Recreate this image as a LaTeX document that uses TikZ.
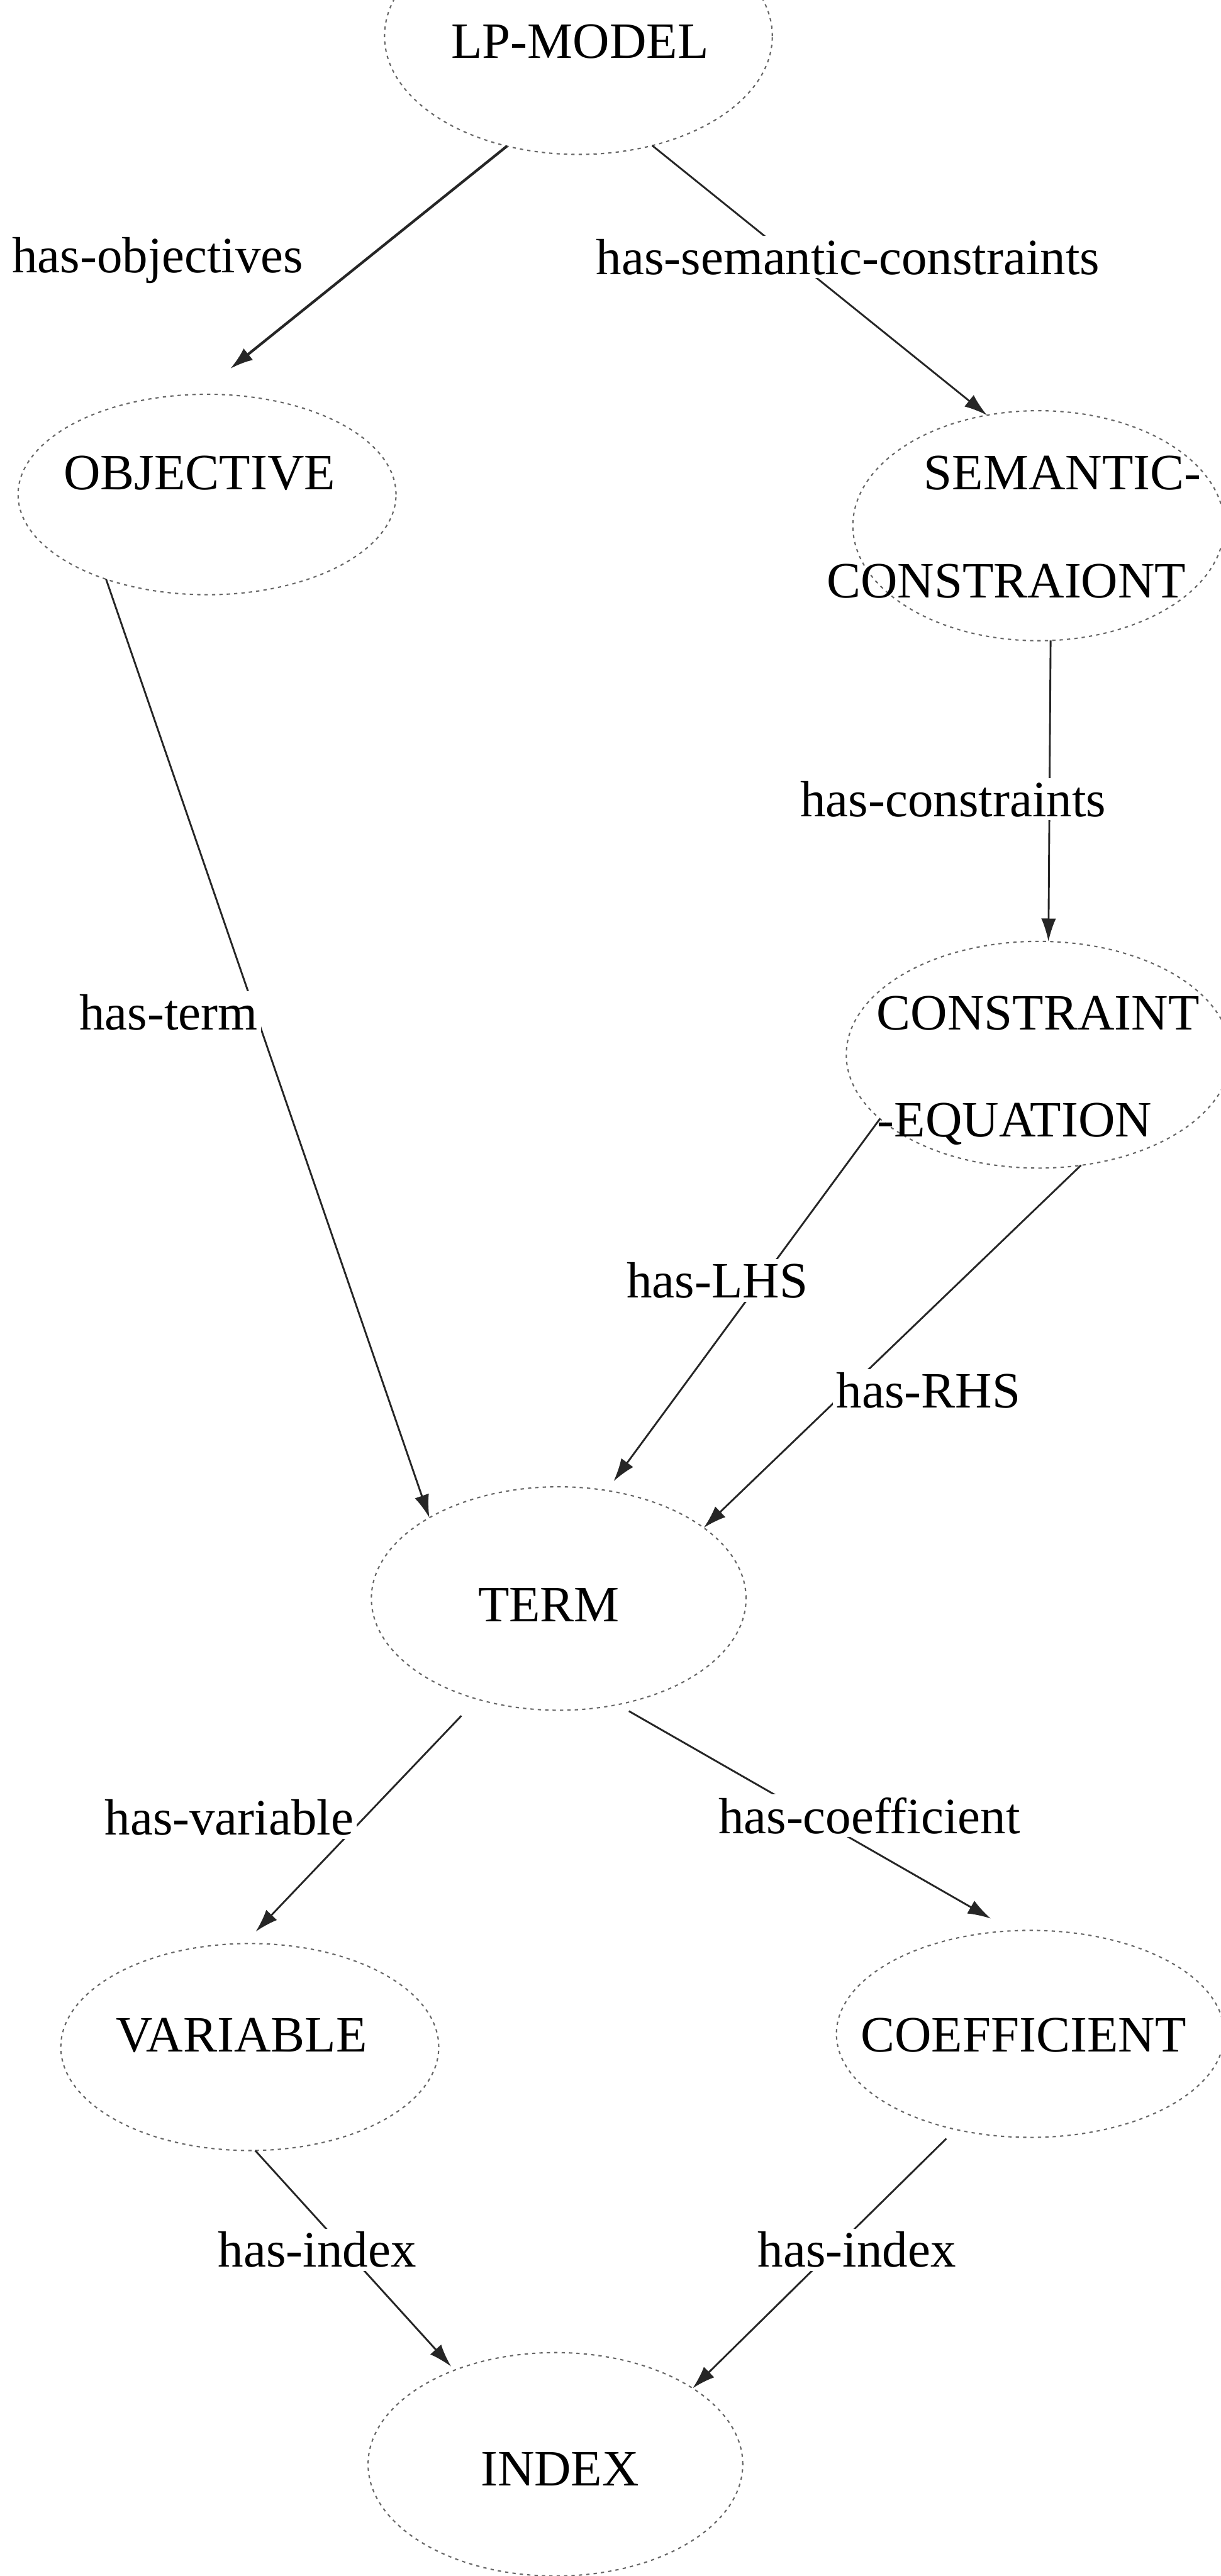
\documentclass[tikz,border=0pt]{standalone}
\usepackage{fontspec}
\setmainfont{Liberation Serif}
\usetikzlibrary{shapes.geometric,arrows.meta}
\begin{document}
\begin{tikzpicture}[x=1pt,y=-1pt,
  txt/.style={anchor=base,inner sep=0pt,font=\fontsize{31}{36}\selectfont},
  lab/.style={anchor=base,inner sep=2pt,fill=white,font=\fontsize{31}{36}\selectfont},
  ell/.style={ellipse,draw=black!60,line width=0.8pt,dash pattern=on 2pt off 2.5pt,inner sep=0pt,outer sep=0pt},
  conn/.style={draw=black!85,line width=1.1pt,-{Latex[length=14pt,width=9pt]}},
]
\useasboundingbox (0,0) rectangle (743,1568);
\clip (0,0) rectangle (743,1568);
\fill[white] (0,0) rectangle (743,1568);

% ellipses
\node[ell,minimum width=236pt,minimum height=144pt] (lpE)   at (352,22)   {};
\node[ell,minimum width=230pt,minimum height=122pt] (objE)  at (126,301)  {};
\node[ell,minimum width=226pt,minimum height=140pt] (semE)  at (632,320)  {};
\node[ell,minimum width=234pt,minimum height=138pt] (conE)  at (632,642)  {};
\node[ell,minimum width=228pt,minimum height=136pt] (termE) at (340,973)  {};
\node[ell,minimum width=230pt,minimum height=126pt] (varE)  at (152,1246) {};
\node[ell,minimum width=236pt,minimum height=126pt] (coefE) at (627,1238) {};
\node[ell,minimum width=228pt,minimum height=136pt] (idxE)  at (338,1500) {};

% node texts
\node[txt] (lp)   at (353,35.5)  {LP-MODEL};
\node[txt] (obj)  at (121.5,298) {OBJECTIVE};
\node[txt] (sem1) at (646.7,298) {SEMANTIC-};
\node[txt] (sem2) at (612.4,364) {CONSTRAIONT};
\node[txt] (con1) at (631.7,626.7) {CONSTRAINT};
\node[txt] (con2) at (617.5,692) {-EQUATION};
\node[txt] (term) at (334,987)   {TERM};
\node[txt] (var)  at (147,1249)  {VARIABLE};
\node[txt] (coef) at (622.8,1249) {COEFFICIENT};
\node[txt] (idx)  at (340.7,1513) {INDEX};

% connectors
\draw[conn,line width=1.6pt,shorten >=25pt] (lpE.237) -- (objE.95);
\draw[conn] (lpE.304) -- (semE.115);
\draw[conn] (objE.220) -- (termE.148);
\draw[conn] (semE.276) -- (conE.85);
\draw[conn,shorten >=7pt] (conE.202) -- (termE.66);
\draw[conn] (conE.291) -- (termE.26);
\draw[conn,shorten <=14pt,shorten >=10pt] (termE.231) -- (varE.93);
\draw[conn,shorten <=8pt,shorten >=15pt] (termE.299) -- (coefE.100);
\draw[conn,shorten >=3pt] (varE.273) -- (idxE.137);
\draw[conn,shorten <=8pt] (coefE.232) -- (idxE.29);

% connector labels
\node[lab] (l1)  at (96,166)    {has-objectives};
\node[lab] (l2)  at (516,167)   {has-semantic-constraints};
\node[lab] (l3)  at (580,497)   {has-constraints};
\node[lab] (l4)  at (102.5,627) {has-term};
\node[lab] (l5)  at (436.5,790) {has-LHS};
\node[lab] (l6)  at (565,857)   {has-RHS};
\node[lab] (l7)  at (139.5,1117) {has-variable};
\node[lab] (l8)  at (529,1116)  {has-coefficient};
\node[lab] (l9)  at (193,1380)  {has-index};
\node[lab] (l10) at (521.5,1380) {has-index};
\end{tikzpicture}
\end{document}
